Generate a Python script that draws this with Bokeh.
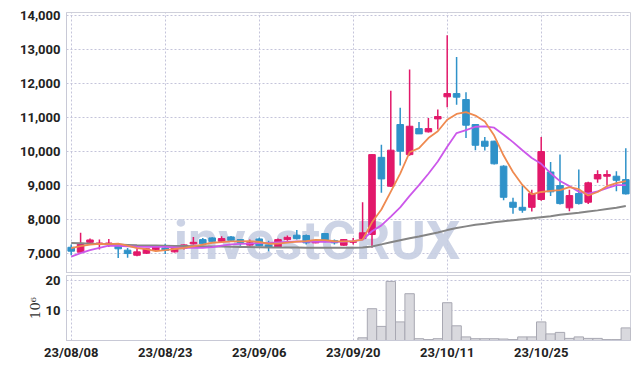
from bokeh.plotting import figure
from bokeh.layouts import column
from bokeh.models import Range1d, NumeralTickFormatter, FixedTicker, ColumnDataSource, Label
from bokeh.embed import file_html
from bokeh.resources import INLINE

dates = ["23/08/08", "23/08/09", "23/08/10", "23/08/11", "23/08/14", "23/08/16", "23/08/17", "23/08/18", "23/08/21", "23/08/22",
         "23/08/23", "23/08/24", "23/08/25", "23/08/28", "23/08/29", "23/08/30", "23/08/31", "23/09/01", "23/09/04", "23/09/05",
         "23/09/06", "23/09/07", "23/09/08", "23/09/11", "23/09/12", "23/09/13", "23/09/14", "23/09/15", "23/09/18", "23/09/19",
         "23/09/20", "23/09/21", "23/09/22", "23/09/25", "23/09/26", "23/09/27", "23/10/04", "23/10/05", "23/10/06", "23/10/10",
         "23/10/11", "23/10/12", "23/10/13", "23/10/16", "23/10/17", "23/10/18", "23/10/19", "23/10/20", "23/10/23", "23/10/24",
         "23/10/25", "23/10/26", "23/10/27", "23/10/30", "23/10/31", "23/11/01", "23/11/02", "23/11/03", "23/11/06", "23/11/07"]

open_ = [7185, 7040, 7330, 7270, 7280, 7235, 7100, 6950, 7010, 7110,
         7165, 7050, 7160, 7285, 7410, 7460, 7360, 7490, 7410, 7250,
         7430, 7255, 7185, 7410, 7540, 7530, 7315, 7590, 7380, 7245,
         7330, 7440, 7560, 9830, 8980, 10795, 9910, 10675, 10580, 10960,
         11610, 11705, 11530, 10795, 10305, 10305, 9570, 8510, 8360, 8360,
         8590, 9400, 9000, 8345, 8765, 8510, 9195, 9275, 9275, 9175]
high = [7265, 7610, 7440, 7410, 7430, 7240, 7165, 7150, 7160, 7240,
        7290, 7180, 7270, 7490, 7460, 7480, 7510, 7520, 7420, 7410,
        7470, 7380, 7440, 7530, 7690, 7560, 7400, 7600, 7410, 7420,
        7460, 8510, 9920, 10200, 11790, 11285, 12410, 10870, 10990, 11235,
        13420, 12780, 11745, 10800, 10430, 10320, 9600, 8640, 9000, 8880,
        10430, 9695, 9910, 8880, 9470, 9110, 9450, 9450, 9420, 10100]
low = [6950, 7030, 7270, 7120, 7190, 6870, 6880, 6920, 6990, 7090,
       6990, 7030, 7120, 7265, 7245, 7330, 7345, 7350, 7230, 7240,
       7215, 7070, 7170, 7380, 7410, 7270, 7300, 7330, 7270, 7230,
       7265, 7400, 7170, 8790, 8960, 9590, 9880, 10520, 10560, 10650,
       11300, 11380, 10400, 10040, 10030, 9620, 8570, 8170, 8200, 8235,
       8550, 8690, 8440, 8245, 8440, 8460, 9080, 9000, 8830, 8740]
close = [7070, 7300, 7400, 7310, 7310, 7140, 7000, 7050, 7140, 7225,
         7090, 7160, 7255, 7330, 7285, 7360, 7440, 7390, 7325, 7315,
         7230, 7185, 7410, 7480, 7440, 7315, 7380, 7360, 7315, 7410,
         7350, 7610, 9910, 9195, 10040, 10010, 10745, 10520, 10675, 11030,
         11705, 11600, 10775, 10185, 10155, 9640, 8655, 8360, 8275, 8765,
         10000, 8815, 8470, 8705, 8470, 9080, 9325, 9325, 9155, 8755]
# volume in millions of shares
volume = [0, 0, 0, 0, 0, 0, 0, 0, 0, 0,
          0, 0, 0, 0, 0, 0, 0, 0, 0, 0,
          0, 0, 0, 0, 0, 0, 0, 0, 0, 0,
          0, 0.9, 10.6, 4.7, 19.7, 6.2, 15.6, 0.6, 0.3, 0.6,
          12.6, 4.9, 1.2, 0.6, 0.6, 0.6, 0.5, 0.3, 1.2, 1.2,
          6.2, 2.2, 2.7, 0.7, 1.2, 0.7, 0.7, 0.3, 0.3, 4.2]
ma5 = [7160, 7220, 7265, 7285, 7280, 7290, 7232, 7162, 7128, 7071,
       7101, 7134, 7164, 7212, 7265, 7318, 7334, 7361, 7360, 7366,
       7340, 7289, 7293, 7324, 7349, 7366, 7405, 7395, 7362, 7356,
       7363, 7409, 7919, 8295, 8821, 9353, 9980, 10102, 10398, 10596,
       10935, 11106, 11157, 11059, 10884, 10471, 9882, 9399, 9017, 8739,
       8811, 8843, 8865, 8951, 8892, 8708, 8810, 8981, 9071, 9128]
ma10 = [6910, 7010, 7100, 7170, 7230, 7230, 7215, 7200, 7195, 7195,
        7197, 7183, 7168, 7170, 7168, 7190, 7234, 7268, 7286, 7295,
        7309, 7312, 7327, 7342, 7358, 7353, 7347, 7344, 7343, 7353,
        7365, 7407, 7657, 7829, 8089, 8358, 8695, 9011, 9347, 9709,
        10144, 10543, 10630, 10729, 10740, 10703, 10494, 10278, 10038, 9812,
        9641, 9363, 9132, 8984, 8816, 8760, 8827, 8923, 9011, 9010]
ma60 = [7310, 7300, 7290, 7280, 7275, 7265, 7255, 7245, 7240, 7235,
        7230, 7225, 7220, 7215, 7215, 7210, 7205, 7200, 7195, 7190,
        7185, 7180, 7180, 7175, 7175, 7170, 7170, 7170, 7170, 7170,
        7170, 7175, 7210, 7270, 7330, 7390, 7450, 7500, 7560, 7620,
        7690, 7750, 7800, 7850, 7880, 7920, 7950, 7980, 8010, 8040,
        8070, 8100, 8140, 8170, 8200, 8240, 8270, 8310, 8350, 8400]

price_ticks = [7000, 8000, 9000, 10000, 11000, 12000, 13000, 14000]
volume_ticks = [10, 20]
date_ticks = [0, 10, 20, 30, 40, 50]

UP = "#e2186a"
DOWN = "#2f92c9"
GRID = "#c4c4da"
FONT = "Roboto"

PX_PER_1000 = 34.0
PRICE_FRAME_H = 261
Y1 = 14090
Y0 = Y1 - PRICE_FRAME_H / PX_PER_1000 * 1000

n = len(dates)
xs = list(range(n))
src = ColumnDataSource(dict(
    x=xs, open=open_, high=high, low=low, close=close, volume=volume,
    top=[max(o, c) for o, c in zip(open_, close)],
    bottom=[min(o, c) for o, c in zip(open_, close)],
    color=[UP if c >= o else DOWN for o, c in zip(open_, close)],
    ma5=ma5, ma10=ma10, ma60=ma60,
))

xr = Range1d(-0.5, n - 0.5)


def style(fig):
    fig.outline_line_color = "#cfd0da"
    fig.background_fill_color = "white"
    fig.border_fill_color = "white"
    fig.grid.grid_line_color = GRID
    fig.grid.grid_line_dash = "2 2"
    fig.grid.grid_line_width = 1
    fig.yaxis.axis_line_color = "#c8c9d6"
    fig.yaxis.major_tick_line_color = None
    fig.yaxis.minor_tick_line_color = None
    fig.yaxis.major_tick_out = 0
    fig.yaxis.major_tick_in = 0
    fig.yaxis.major_label_text_font = FONT
    fig.yaxis.major_label_text_font_style = "bold"
    fig.yaxis.major_label_text_font_size = "13px"
    fig.yaxis.major_label_text_color = "#222222"
    fig.yaxis.major_label_standoff = 6


p = figure(frame_width=564, frame_height=PRICE_FRAME_H, x_range=xr, y_range=Range1d(Y0, Y1),
           output_backend="svg", toolbar_location=None,
           min_border_left=66, min_border_right=2, min_border_top=12, min_border_bottom=0)
p.xaxis.visible = False
p.xgrid.ticker = FixedTicker(ticks=date_ticks)
p.yaxis.ticker = FixedTicker(ticks=price_ticks)
p.yaxis.formatter = NumeralTickFormatter(format="0,0")
style(p)

# watermark, kept fully inside the price panel
wm = Label(x=10.9, y=Y0 + 40, text="investCRUX", text_font=FONT, text_font_style="bold",
           text_font_size="54px", text_color="#c6cee2", text_alpha=0.9,
           text_baseline="bottom", text_align="left", level="underlay")
p.add_layout(wm)

p.segment(x0="x", y0="high", x1="x", y1="low", color="color", line_width=1.5, source=src)
p.vbar(x="x", width=0.7, top="top", bottom="bottom", fill_color="color", line_color="color", source=src)
p.line("x", "ma60", source=src, color="#858585", line_width=2)
p.line("x", "ma10", source=src, color="#cc58ea", line_width=1.8)
p.line("x", "ma5", source=src, color="#ef8a50", line_width=1.8)

v = figure(frame_width=564, frame_height=65, x_range=xr, y_range=Range1d(0, 21.67),
           output_backend="svg", toolbar_location=None,
           min_border_left=66, min_border_right=2, min_border_top=2, min_border_bottom=4)
style(v)
v.yaxis.ticker = FixedTicker(ticks=volume_ticks)
v.yaxis.axis_label = "10⁶"
v.yaxis.axis_label_text_font = "DejaVu Serif"
v.yaxis.axis_label_text_font_style = "normal"
v.yaxis.axis_label_text_font_size = "13px"
v.yaxis.axis_label_text_color = "#333333"
v.yaxis.axis_label_standoff = 0
v.xaxis.ticker = FixedTicker(ticks=date_ticks)
v.xaxis.major_label_overrides = {i: dates[i] for i in date_ticks}
v.xaxis.axis_line_color = "#c8c9d6"
v.xaxis.major_tick_line_color = None
v.xaxis.minor_tick_line_color = None
v.xaxis.major_tick_out = 0
v.xaxis.major_tick_in = 0
v.xaxis.major_label_text_font = FONT
v.xaxis.major_label_text_font_style = "bold"
v.xaxis.major_label_text_font_size = "13px"
v.xaxis.major_label_text_color = "#222222"
v.xaxis.major_label_standoff = 4

v.vbar(x="x", width=1.0, top="volume", bottom=0, fill_color="#d9d9de", line_color="#a8a8b2",
       line_width=1, source=src)

layout = column(p, v, spacing=0)
open("out.html", "w").write(file_html(layout, INLINE))
